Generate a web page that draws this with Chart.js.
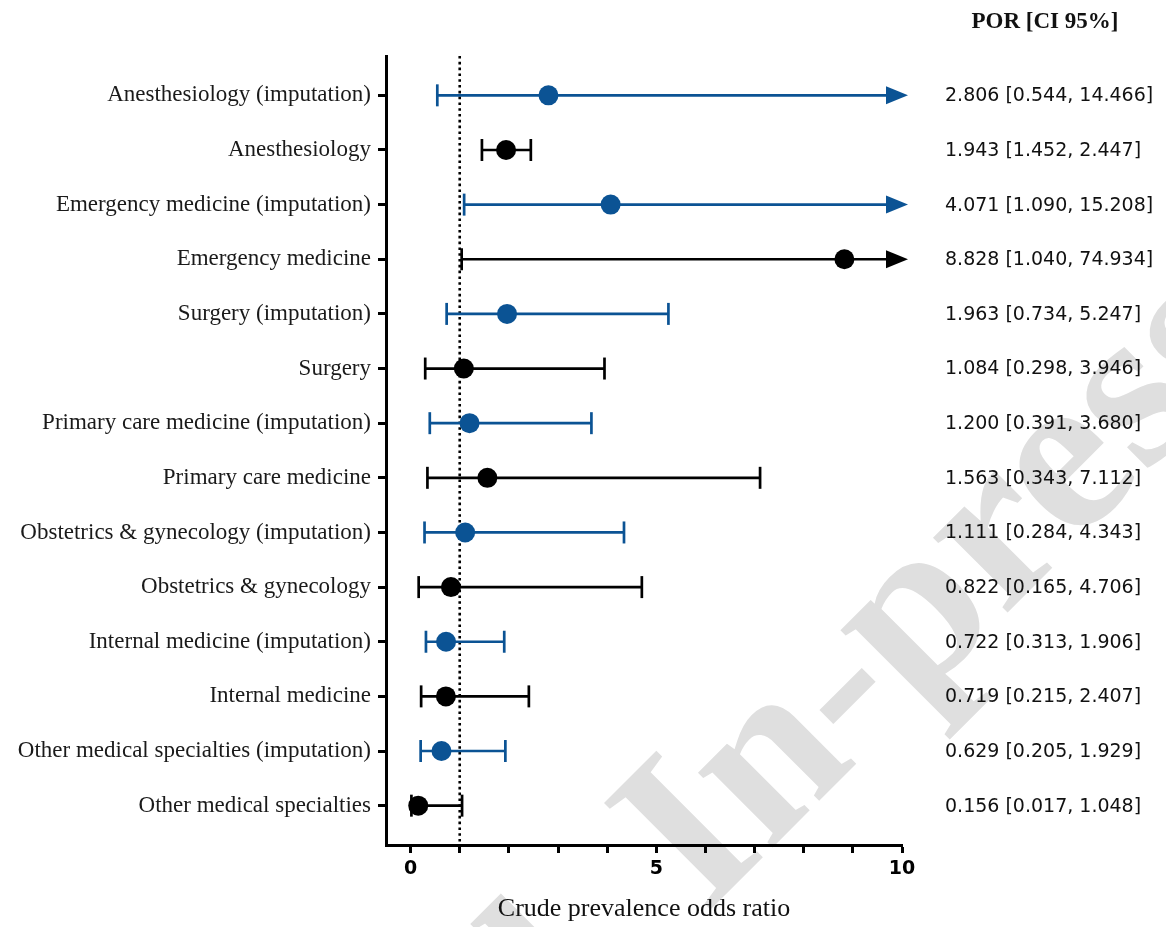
<!DOCTYPE html>
<html>
<head>
<meta charset="utf-8">
<title>Crude prevalence odds ratio by specialty</title>
<script src="https://cdn.jsdelivr.net/npm/chart.js@4.4.1/dist/chart.umd.min.js"></script>
<style>
  html, body { margin: 0; padding: 0; background: #fff; }
  #wrap { width: 1166px; height: 927px; }
</style>
</head>
<body>
<div id="wrap"><canvas id="forest" width="1166" height="927"></canvas></div>
<script>
// Specialties, top to bottom
const categories = [
  'Anesthesiology (imputation)',
  'Anesthesiology',
  'Emergency medicine (imputation)',
  'Emergency medicine',
  'Surgery (imputation)',
  'Surgery',
  'Primary care medicine (imputation)',
  'Primary care medicine',
  'Obstetrics & gynecology (imputation)',
  'Obstetrics & gynecology',
  'Internal medicine (imputation)',
  'Internal medicine',
  'Other medical specialties (imputation)',
  'Other medical specialties'
];

// Prevalence odds ratio and its 95% confidence interval
const por    = [2.806, 1.943, 4.071, 8.828, 1.963, 1.084, 1.200, 1.563, 1.111, 0.822, 0.722, 0.719, 0.629, 0.156];
const ciLow  = [0.544, 1.452, 1.090, 1.040, 0.734, 0.298, 0.391, 0.343, 0.284, 0.165, 0.313, 0.215, 0.205, 0.017];
const ciHigh = [14.466, 2.447, 15.208, 74.934, 5.247, 3.946, 3.680, 7.112, 4.343, 4.706, 1.906, 2.407, 1.929, 1.048];
const imputed = [true, false, true, false, true, false, true, false, true, false, true, false, true, false];

// Axis ticks
const xTicks = [0, 1, 2, 3, 4, 5, 6, 7, 8, 9, 10];
const xTickLabels = [0, 5, 10];
const nullValue = 1;

const BLUE = '#0b5394';
const BLACK = '#000000';

function rowsFor(flag) {
  const pts = [];
  categories.forEach((_, i) => { if (imputed[i] === flag) pts.push({ x: por[i], y: i }); });
  return pts;
}

// Light diagonal watermark behind the plot
const watermark = {
  id: 'watermark',
  beforeDraw(chart) {
    const { ctx, width, height } = chart;
    ctx.save();
    ctx.fillStyle = '#ffffff';
    ctx.fillRect(0, 0, width, height);
    ctx.font = 'bold 230px "Liberation Serif"';
    ctx.fillStyle = '#dfdfdf';
    ctx.textBaseline = 'alphabetic';
    ctx.translate(705, 915);
    ctx.rotate(-Math.PI / 4);
    const prefix = 'Accepted. ';
    const pw = ctx.measureText(prefix).width;
    ctx.textAlign = 'left';
    ctx.fillText(prefix + 'In-press', -pw, 0);
    ctx.restore();
  }
};

// Confidence-interval whiskers, with an arrow where the upper limit runs off the axis
const errorBars = {
  id: 'errorBars',
  beforeDatasetsDraw(chart) {
    const { ctx, scales: { x, y } } = chart;
    chart.data.datasets.forEach((ds) => {
      ctx.save();
      ctx.strokeStyle = ds.backgroundColor;
      ctx.fillStyle = ds.backgroundColor;
      ctx.lineWidth = 2.7;
      ctx.lineCap = 'butt';
      ds.data.forEach((pt) => {
        const row = pt.y;
        const lo = ciLow[row];
        const hi = ciHigh[row];
        const py = y.getPixelForValue(row);
        const x0 = x.getPixelForValue(lo);
        const offAxis = hi > x.max;
        const xe = x.getPixelForValue(offAxis ? x.max : hi);
        const lineEnd = offAxis ? xe - 14 : xe;
        ctx.beginPath();
        ctx.moveTo(x0, py);
        ctx.lineTo(lineEnd, py);
        ctx.stroke();
        // lower cap
        ctx.beginPath();
        ctx.moveTo(x0, py - 11);
        ctx.lineTo(x0, py + 11);
        ctx.stroke();
        if (offAxis) {
          ctx.beginPath();
          ctx.moveTo(xe - 16, py - 9);
          ctx.lineTo(xe + 6, py);
          ctx.lineTo(xe - 16, py + 9);
          ctx.closePath();
          ctx.fill();
        } else {
          ctx.beginPath();
          ctx.moveTo(xe, py - 11);
          ctx.lineTo(xe, py + 11);
          ctx.stroke();
        }
      });
      ctx.restore();
    });
  }
};

// Dotted line of no effect
const nullLine = {
  id: 'nullLine',
  beforeDatasetsDraw(chart) {
    const { ctx, chartArea, scales: { x } } = chart;
    const px = x.getPixelForValue(nullValue);
    ctx.save();
    ctx.strokeStyle = '#000';
    ctx.lineWidth = 2.6;
    ctx.setLineDash([2.6, 3.2]);
    ctx.beginPath();
    ctx.moveTo(px, chartArea.top);
    ctx.lineTo(px, chartArea.bottom);
    ctx.stroke();
    ctx.restore();
  }
};

// POR [CI 95%] column to the right of the plot
const estimateColumn = {
  id: 'estimateColumn',
  afterDraw(chart) {
    const { ctx, chartArea, scales: { y } } = chart;
    const colX = chartArea.right + 43;
    ctx.save();
    ctx.fillStyle = '#111';
    ctx.font = 'bold 23px "Liberation Serif"';
    ctx.textAlign = 'center';
    ctx.textBaseline = 'middle';
    ctx.fillText('POR [CI 95%]', colX + 100, 22);
    ctx.font = '19px "DejaVu Sans"';
    ctx.textAlign = 'left';
    categories.forEach((_, i) => {
      const txt = por[i].toFixed(3) + ' [' + ciLow[i].toFixed(3) + ', ' + ciHigh[i].toFixed(3) + ']';
      ctx.fillText(txt, colX, y.getPixelForValue(i) + 1);
    });
    ctx.restore();
  }
};

new Chart(document.getElementById('forest'), {
  type: 'scatter',
  data: {
    datasets: [
      { label: 'Imputation', data: rowsFor(true), backgroundColor: BLUE, borderWidth: 0, pointRadius: 10, pointHoverRadius: 10 },
      { label: 'Complete case', data: rowsFor(false), backgroundColor: BLACK, borderWidth: 0, pointRadius: 10, pointHoverRadius: 10 }
    ]
  },
  options: {
    responsive: false,
    animation: false,
    events: [],
    devicePixelRatio: 1,
    layout: { padding: { top: 56, right: 264, bottom: 0, left: 0 } },
    plugins: { legend: { display: false }, tooltip: { enabled: false } },
    scales: {
      x: {
        type: 'linear',
        min: -0.5,
        max: 10,
        afterBuildTicks: (s) => { s.ticks = xTicks.map((v) => ({ value: v })); },
        afterFit: (s) => { s.height = 82; },
        ticks: {
          autoSkip: false,
          padding: 5,
          color: '#000',
          font: { family: 'DejaVu Sans', size: 19, weight: 'bold' },
          callback: (v) => (xTickLabels.includes(v) ? String(v) : '')
        },
        grid: { drawOnChartArea: false, drawTicks: true, tickLength: 8, tickWidth: 3, tickColor: '#000' },
        border: { display: true, width: 3, color: '#000' },
        title: {
          display: true,
          text: 'Crude prevalence odds ratio',
          color: '#111',
          font: { family: 'Liberation Serif', size: 26 },
          padding: { top: 0, bottom: 2 }
        }
      },
      y: {
        type: 'linear',
        reverse: true,
        min: -0.72,
        max: 13.72,
        afterBuildTicks: (s) => { s.ticks = categories.map((_, i) => ({ value: i })); },
        afterFit: (s) => { s.width = 386; },
        ticks: {
          autoSkip: false,
          padding: 7,
          color: '#1a1a1a',
          font: { family: 'Liberation Serif', size: 23 },
          callback: (v) => categories[v]
        },
        grid: { drawOnChartArea: false, drawTicks: true, tickLength: 8, tickWidth: 3, tickColor: '#000' },
        border: { display: true, width: 3, color: '#000' }
      }
    }
  },
  plugins: [watermark, nullLine, errorBars, estimateColumn]
});
</script>
</body>
</html>
